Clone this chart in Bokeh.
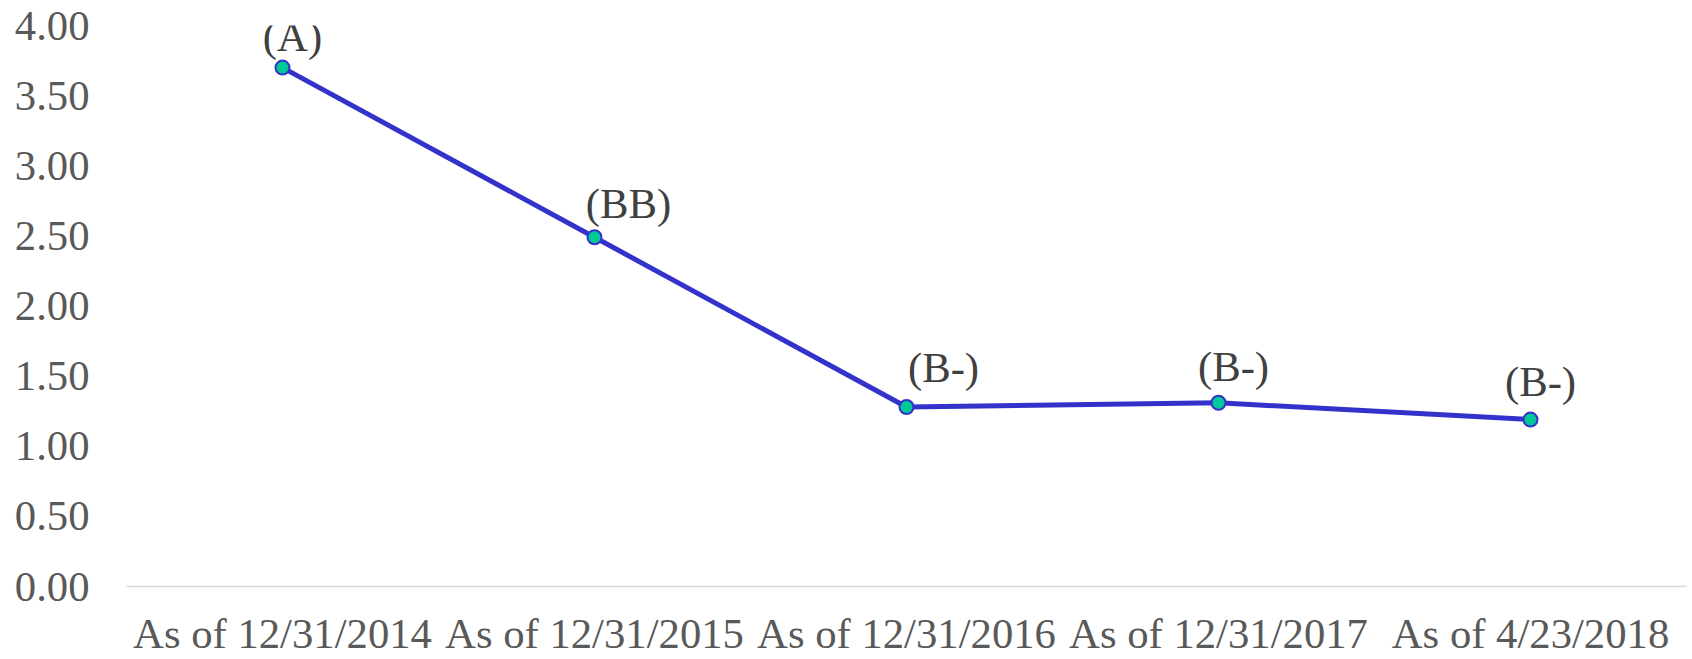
from bokeh.plotting import figure
from bokeh.models import ColumnDataSource, FixedTicker, NumeralTickFormatter, Range1d
from bokeh.core.properties import value
from bokeh.embed import file_html
from bokeh.resources import INLINE

categories = ["As of 12/31/2014", "As of 12/31/2015", "As of 12/31/2016",
              "As of 12/31/2017", "As of 4/23/2018"]
values = [3.70, 2.49, 1.28, 1.31, 1.19]
ratings = ["(A)", "(BB)", "(B-)", "(B-)", "(B-)"]
y_ticks = [0.0, 0.5, 1.0, 1.5, 2.0, 2.5, 3.0, 3.5, 4.0]

# label placement tweaks (screen pixels)
label_dx = [10, 34, 37, 15, 10]
label_dy = [-31, -34, -39, -36, -38]

src = ColumnDataSource(dict(x=categories, y=values, t=ratings, dx=label_dx, dy=label_dy))

FONT = "Liberation Serif"

p = figure(x_range=categories, y_range=Range1d(0, 4.0), width=1692, height=659,
           output_backend="svg", toolbar_location=None,
           min_border_left=126, min_border_right=6, min_border_top=25, min_border_bottom=68)
p.outline_line_color = None
p.background_fill_color = "white"
p.border_fill_color = "white"
p.x_range.range_padding = 0
p.xgrid.visible = False
p.ygrid.visible = False

p.line("x", "y", source=src, line_color="#3333CC", line_width=5)
p.scatter("x", "y", source=src, size=14, fill_color="#00C896", line_color="#3333CC", line_width=2)
p.text("x", "y", text="t", source=src, x_offset="dx", y_offset="dy",
       text_font=value(FONT), text_font_size="42.7px", text_color="#404040",
       text_align="center", text_baseline="alphabetic")

ya = p.yaxis[0]
ya.ticker = FixedTicker(ticks=y_ticks)
ya.formatter = NumeralTickFormatter(format="0.00")
ya.axis_line_color = None
ya.major_tick_line_color = None
ya.minor_tick_line_color = None
ya.major_tick_out = 0
ya.major_tick_in = 0
ya.major_label_text_font = FONT
ya.major_label_text_font_size = "42.7px"
ya.major_label_text_color = "#595959"
ya.major_label_standoff = 37

xa = p.xaxis[0]
xa.axis_line_color = "#D9D9D9"
xa.axis_line_width = 1.5
xa.major_tick_line_color = None
xa.minor_tick_line_color = None
xa.major_tick_out = 0
xa.major_tick_in = 0
xa.major_label_text_font = FONT
xa.major_label_text_font_size = "42.7px"
xa.major_label_text_line_height = 1.0
xa.major_label_text_color = "#595959"
xa.major_label_standoff = 23

open("out.html", "w").write(file_html(p, INLINE))
